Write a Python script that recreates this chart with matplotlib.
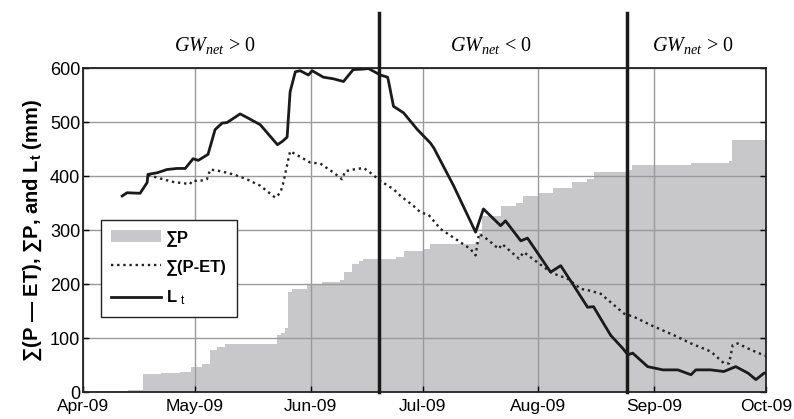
import numpy as np
import matplotlib
matplotlib.use("Agg")
import matplotlib.pyplot as plt
import matplotlib.dates as mdates
import matplotlib.transforms as mtransforms
from matplotlib.patches import Patch
from matplotlib.lines import Line2D

plt.rcParams['font.family'] = ['Liberation Sans', 'DejaVu Sans']
plt.rcParams['mathtext.fontset'] = 'custom'
plt.rcParams['mathtext.rm'] = 'Liberation Serif'
plt.rcParams['mathtext.it'] = 'Liberation Serif:italic'
plt.rcParams['mathtext.bf'] = 'Liberation Sans:bold'
plt.rcParams['mathtext.sf'] = 'Liberation Sans'

# ---- data (days after 1 Apr 2009) ----
start_date = '2009-04-01'

p_days = [0, 10, 12, 16, 21, 26, 29, 32, 34, 36, 38, 52, 53, 54, 55, 56, 60, 64, 69, 70,
          72, 74, 75, 84, 86, 91, 93, 105, 106, 107, 112, 116, 118, 122, 126, 131, 135,
          137, 146, 147, 163, 173, 174, 183]
p_vals = [0, 2, 4, 34, 35, 37, 47, 52, 78, 84, 89, 105, 110, 118, 185, 191, 200, 204, 207, 222,
          237, 243, 247, 250, 262, 265, 274, 277, 295, 326, 345, 350, 363, 369, 378, 388, 394,
          407, 411, 421, 424, 428, 467, 472]

pet_days = [17.5, 19.8, 24.2, 28.7, 29.2, 31.4, 33.2, 34.1, 36.8, 40.3, 43.9, 47.5, 51.5,
            52.9, 53.7, 55.5, 57.8, 60.9, 63.6, 67.2, 69.4, 70.3, 72.5, 75.2, 77.0, 79.7,
            83.3, 85.1, 88.5, 90.4, 92.6, 95.8, 101.2, 103.8, 105.2, 106.1, 108.3, 111.4,
            112.3, 116.8, 118.1, 125.3, 126.2, 129.8, 133.4, 135.6, 138.7, 145.0, 147.7,
            152.1, 158.4, 162.9, 168.2, 171.8, 173.1, 174.1, 175.4, 179.0, 182.1, 183.0]
pet_vals = [402, 397, 389, 385, 391, 391, 394, 412, 409, 403, 394, 382, 360,
            369, 388, 446, 437, 425, 423, 406, 394, 409, 412, 415, 406, 391,
            375, 363, 345, 333, 328, 302, 277, 265, 253, 293, 283, 265,
            274, 247, 259, 222, 219, 210, 191, 188, 182, 145, 139,
            124, 105, 90, 75, 53, 53, 87, 90, 78, 69, 67]

lt_days = [10.5, 11.8, 15.3, 17.2, 17.4, 19.9, 22.5, 25.2, 27.4, 29.5, 30.9, 33.5, 35.4,
           37.3, 38.6, 42.1, 43.5, 47.5, 52.1, 53.4, 54.7, 55.5, 56.9, 58.2, 60.4, 61.4,
           64.4, 67.1, 69.8, 72.4, 75.1, 76.5, 79.7, 81.6, 81.8, 83.2, 85.9, 89.6, 93.1,
           94.0, 99.3, 105.2, 107.3, 111.9, 113.2, 117.3, 119.1, 125.3, 128.0, 131.5,
           135.2, 136.8, 138.7, 141.4, 144.6, 146.0, 147.3, 151.3, 155.4, 159.4, 162.9,
           164.2, 168.2, 171.7, 174.9, 178.2, 180.3, 182.5, 183.0]
lt_vals = [363, 369, 368, 388, 403, 406, 412, 414, 414, 432, 429, 440, 486,
           498, 499, 515, 510, 495, 458, 464, 472, 556, 593, 595, 587, 595,
           583, 580, 575, 597, 598, 599, 587, 583, 578, 529, 517, 486, 461,
           452, 382, 296, 339, 308, 317, 280, 285, 222, 234, 197,
           157, 158, 136, 105, 81, 69, 72, 47, 41, 41, 32,
           41, 41, 38, 47, 35, 23, 35, 35]

boundary_days = [79.2, 145.7]
regime_days = [35.4, 109.2, 163.4]
regime_labels = [r'$GW_{net}$ > 0', r'$GW_{net}$ < 0', r'$GW_{net}$ > 0']

month_ticks = ['2009-04-01', '2009-05-01', '2009-06-01', '2009-07-01',
               '2009-08-01', '2009-09-01', '2009-10-01']
y_ticks = [0, 100, 200, 300, 400, 500, 600]

# ---- plot ----
base = mdates.datestr2num(start_date)
px = base + np.array(p_days, dtype=float)
petx = base + np.array(pet_days)
ltx = base + np.array(lt_days)

fig = plt.figure(figsize=(7.94, 4.19), dpi=100)
ax = fig.add_axes([0.1045, 0.0644, 0.8602, 0.7733])

ax.fill_between(px, 0, p_vals, step='post', color='#c8c8ca', linewidth=0, zorder=1)
ax.plot(petx, pet_vals, linestyle=(0, (1, 1.6)), color='#222222', lw=1.7, zorder=3)
ax.plot(ltx, lt_vals, color='#1a1a1a', lw=2.0, zorder=3)

ax.set_axisbelow('line')
ax.grid(True, color='#9a9a9a', lw=1.0)

ax.set_xlim(mdates.datestr2num(month_ticks[0]), mdates.datestr2num(month_ticks[-1]))
ax.set_ylim(0, 600)
ax.set_xticks([mdates.datestr2num(m) for m in month_ticks])
ax.xaxis.set_major_formatter(mdates.DateFormatter('%b-%y'))
ax.set_yticks(y_ticks)
ax.tick_params(axis='y', labelsize=13, direction='in', length=4, width=1, pad=2, right=True)
ax.tick_params(axis='x', labelsize=12.5, direction='in', length=4, width=1, pad=5)
for s in ax.spines.values():
    s.set_color('#222222')
    s.set_linewidth(1.3)

for d in boundary_days:
    ax.axvline(base + d, ymin=0, ymax=1.17, color='#1a1a1a', lw=2.5, clip_on=False, zorder=4)

trans = mtransforms.blended_transform_factory(ax.transData, ax.transAxes)
for d, lab in zip(regime_days, regime_labels):
    ax.text(base + d, 1.07, lab, transform=trans, ha='center', va='center',
            fontsize=14.5, family='Liberation Serif')

ax.set_ylabel(r'∑(P — ET), ∑P, and L$_\mathbf{t}$ (mm)', fontsize=14.5, fontweight='bold', labelpad=4)

handles = [Patch(facecolor='#c8c8ca', edgecolor='none'),
           Line2D([], [], linestyle=(0, (1, 1.6)), color='#222222', lw=1.7),
           Line2D([], [], color='#1a1a1a', lw=2.0)]
labels = ['∑P', '∑(P-ET)', r'L $_\mathsf{t}$']
leg = ax.legend(handles, labels, loc='upper left', bbox_to_anchor=(0.026, 0.531),
                prop={'weight': 'bold', 'size': 12}, frameon=True, fancybox=False,
                edgecolor='#222222', framealpha=1, handlelength=3.0, borderpad=0.6,
                labelspacing=0.8, handletextpad=0.3, borderaxespad=0)
leg.get_frame().set_linewidth(1.0)

fig.savefig('out.png', dpi=100)
